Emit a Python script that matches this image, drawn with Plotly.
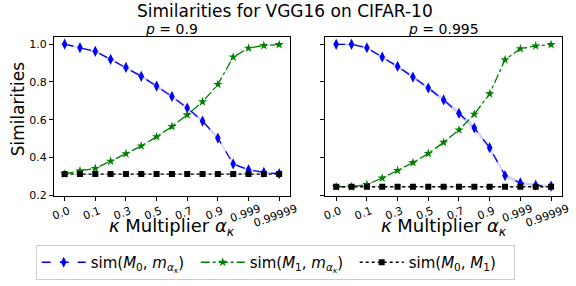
import plotly.graph_objects as go

alpha_labels = ["0.0", "0.05", "0.1", "0.2", "0.3", "0.4", "0.5", "0.6", "0.7", "0.8",
                "0.9", "0.99", "0.999", "0.9999", "0.99999"]
tick_labels = ["0.0", "0.1", "0.3", "0.5", "0.7", "0.9", "0.999", "0.99999"]

# p = 0.9
left_m0 = [1.0, 0.981, 0.962, 0.920, 0.877, 0.830, 0.778, 0.723, 0.662, 0.593,
           0.503, 0.366, 0.335, 0.321, 0.314]
left_m1 = [0.312, 0.330, 0.342, 0.380, 0.420, 0.461, 0.510, 0.564, 0.626, 0.695,
           0.787, 0.932, 0.979, 0.993, 0.998]
left_base = [0.312] * 15
# p = 0.995
right_m0 = [0.999, 0.999, 0.981, 0.932, 0.882, 0.826, 0.768, 0.705, 0.634, 0.556,
            0.452, 0.304, 0.265, 0.253, 0.248]
right_m1 = [0.245, 0.245, 0.257, 0.291, 0.331, 0.373, 0.421, 0.480, 0.546, 0.629,
            0.737, 0.918, 0.976, 0.991, 0.998]
right_base = [0.245] * 15
# std band half-widths
left_m0_std = [0.003, 0.004, 0.005, 0.006, 0.006, 0.007, 0.007, 0.008, 0.008, 0.008,
               0.008, 0.007, 0.006, 0.005, 0.005]
right_m0_std = [0.003, 0.004, 0.005, 0.007, 0.008, 0.009, 0.010, 0.011, 0.012, 0.012,
                0.012, 0.010, 0.008, 0.006, 0.005]
m1_std = [0.002, 0.002, 0.003, 0.003, 0.003, 0.003, 0.003, 0.003, 0.003, 0.003,
          0.003, 0.003, 0.002, 0.002, 0.002]
base_std = [0.004] * 15

BLUE = "#0000ff"
GREEN = "#008000"
BLACK = "#000000"

leg_m0 = "sim(<i>M</i><sub>0</sub>, <i>m</i><sub><i>α<sub>κ</sub></i></sub>)"
leg_m1 = "sim(<i>M</i><sub>1</sub>, <i>m</i><sub><i>α<sub>κ</sub></i></sub>)"
leg_b = "sim(<i>M</i><sub>0</sub>, <i>M</i><sub>1</sub>)"
x_title = "<i>κ</i> Multiplier <i>α</i><sub><i>κ</i></sub>"

# category positions on the x axis (one slot per alpha value)
x_idx = list(range(len(alpha_labels)))
tick_pos = [alpha_labels.index(t) for t in tick_labels]

fig = go.Figure()


def band(vals, std, xa, ya, color):
    up = [v + s for v, s in zip(vals, std)]
    lo = [v - s for v, s in zip(vals, std)]
    fig.add_trace(go.Scatter(x=x_idx, y=lo, mode="lines", line=dict(width=0),
                             showlegend=False, hoverinfo="skip", xaxis=xa, yaxis=ya))
    fig.add_trace(go.Scatter(x=x_idx, y=up, mode="lines", line=dict(width=0),
                             fill="tonexty", fillcolor=color, showlegend=False,
                             hoverinfo="skip", xaxis=xa, yaxis=ya))


# (main x axis, overlay x axes for the longer tick labels)
for (m0, m1, b, m0s, xa, xo1, xo2, ya, show) in [
    (left_m0, left_m1, left_base, left_m0_std, "x", "x3", "x4", "y", True),
    (right_m0, right_m1, right_base, right_m0_std, "x2", "x5", "x6", "y2", False),
]:
    band(b, base_std, xo1, ya, "rgba(0,0,0,0.15)")
    band(m0, m0s, xa, ya, "rgba(0,0,255,0.18)")
    band(m1, m1_std, xo2, ya, "rgba(0,128,0,0.15)")
    fig.add_trace(go.Scatter(x=x_idx, y=m0, mode="lines+markers", name=leg_m0,
                             text=alpha_labels,
                             line=dict(color=BLUE, dash="dash", width=1.3),
                             marker=dict(symbol="diamond-tall", size=8, color=BLUE),
                             showlegend=show, legendrank=1, xaxis=xa, yaxis=ya))
    fig.add_trace(go.Scatter(x=x_idx, y=m1, mode="lines+markers", name=leg_m1,
                             text=alpha_labels,
                             line=dict(color=GREEN, dash="dashdot", width=1.3),
                             marker=dict(symbol="star", size=7, color=GREEN),
                             showlegend=show, legendrank=2, xaxis=xa, yaxis=ya))
    fig.add_trace(go.Scatter(x=x_idx, y=b, mode="lines+markers", name=leg_b,
                             text=alpha_labels,
                             line=dict(color=BLACK, dash="dot", width=1.3),
                             marker=dict(symbol="square", size=6, color=BLACK),
                             showlegend=show, legendrank=3, xaxis=xa, yaxis=ya))

W, H = 576, 286
yd = [1 - 200 / H, 1 - 38 / H]
XR = [-0.7, len(alpha_labels) - 1 + 0.7]
L0, L1 = 52, 293
R0, R1 = 329.3, 570.7
TF = dict(size=11, color="black")

axis_common = dict(showline=True, linecolor="black", linewidth=1, mirror=True,
                   showgrid=False, zeroline=False, ticks="outside", ticklen=4,
                   tickcolor="black", tickfont=TF)

# short labels on main axis; longer labels on overlay axes, shifted so that
# each rotated label sits just left of centre on its tick
short = [t for t in tick_labels if len(t) <= 3]
groups = [(["0.999"], 11), (["0.99999"], 17)]


def main_x(dom, anchor):
    return dict(axis_common, domain=dom, anchor=anchor, range=XR,
                tickmode="array", tickvals=tick_pos,
                ticktext=[t if t in short else "" for t in tick_labels],
                tickangle=-20, ticklabelshift=4)


def overlay_x(dom, anchor, base, labels, shift):
    return dict(domain=dom, anchor=anchor, overlaying=base, range=XR, side="bottom",
                showline=False, showgrid=False, zeroline=False, ticks="",
                tickmode="array", tickvals=[alpha_labels.index(t) for t in labels],
                ticktext=labels, tickangle=-20, ticklabelshift=shift, tickfont=TF,
                ticklabelstandoff=4)


layout_axes = {
    "xaxis": main_x([L0 / W, L1 / W], "y"),
    "xaxis2": main_x([R0 / W, R1 / W], "y2"),
}
n = 3
for base, dom, anchor in [("x", [L0 / W, L1 / W], "y"), ("x2", [R0 / W, R1 / W], "y2")]:
    for labels, shift in groups:
        layout_axes["xaxis%d" % n] = overlay_x(dom, anchor, base, labels, shift)
        n += 1

fig.update_layout(
    width=W, height=H,
    margin=dict(l=0, r=0, t=0, b=0),
    paper_bgcolor="white", plot_bgcolor="white",
    font=dict(family="DejaVu Sans", color="black"),
    yaxis=dict(axis_common, domain=yd, range=[0.197, 1.037], anchor="x",
               tickvals=[0.2, 0.4, 0.6, 0.8, 1.0],
               ticktext=["0.2", "0.4", "0.6", "0.8", "1.0"]),
    yaxis2=dict(axis_common, domain=yd, range=[0.197, 1.037], anchor="x2",
                tickvals=[0.2, 0.4, 0.6, 0.8, 1.0], showticklabels=False),
    showlegend=True,
    legend=dict(orientation="h", x=(35 + 521) / 2 / W, xanchor="center",
                y=1 - 286 / H, yanchor="bottom",
                bordercolor="#cccccc", borderwidth=1, bgcolor="white",
                font=dict(size=15, color="black"), itemwidth=44,
                entrywidth=100, traceorder="normal"),
    annotations=[
        dict(text="Similarities for VGG16 on CIFAR-10", x=0.5, y=1 - 11 / H,
             xref="paper", yref="paper", showarrow=False, font=dict(size=17, color="black"),
             xanchor="center", yanchor="middle"),
        dict(text="<i>p</i> = 0.9", x=(L0 + L1) / 2 / W, y=1 - 29.5 / H,
             xref="paper", yref="paper", showarrow=False, font=dict(size=14, color="black"),
             xanchor="center", yanchor="middle"),
        dict(text="<i>p</i> = 0.995", x=(R0 + R1) / 2 / W, y=1 - 29.5 / H,
             xref="paper", yref="paper", showarrow=False, font=dict(size=14, color="black"),
             xanchor="center", yanchor="middle"),
        dict(text="Similarities", x=15 / W, y=1 - 112 / H, textangle=-90,
             xref="paper", yref="paper", showarrow=False, font=dict(size=17, color="black"),
             xanchor="center", yanchor="middle"),
        dict(text=x_title, x=(L0 + L1) / 2 / W, y=1 - 232 / H,
             xref="paper", yref="paper", showarrow=False, font=dict(size=18, color="black"),
             xanchor="center", yanchor="middle"),
        dict(text=x_title, x=(R0 + R1) / 2 / W, y=1 - 232 / H,
             xref="paper", yref="paper", showarrow=False, font=dict(size=18, color="black"),
             xanchor="center", yanchor="middle"),
    ],
    **layout_axes,
)

fig.write_html("out.html", config={"displayModeBar": False},
               post_script="document.body.style.margin='0';document.body.style.padding='0';")
